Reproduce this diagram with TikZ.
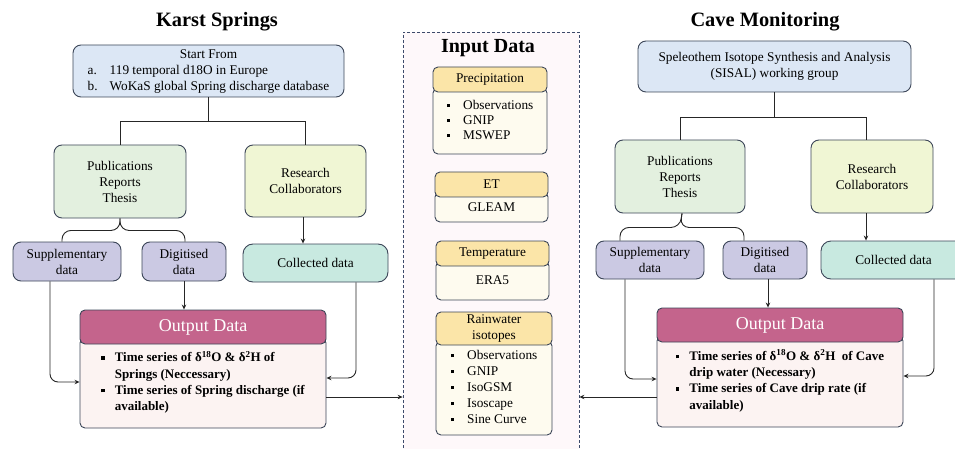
\documentclass[tikz,border=0pt]{standalone}
\usepackage{fontspec}
\setmainfont{Liberation Serif}
\usetikzlibrary{arrows.meta,calc}

\definecolor{edge}{HTML}{3C4658}
\definecolor{startfill}{HTML}{DCE7F5}
\definecolor{pubfill}{HTML}{E3F0DF}
\definecolor{resfill}{HTML}{F0F6D4}
\definecolor{lavfill}{HTML}{CBC9E3}
\definecolor{colfill}{HTML}{C8E9E0}
\definecolor{outhead}{HTML}{C4648C}
\definecolor{outbody}{HTML}{FCF3F2}
\definecolor{inhead}{HTML}{FBE5A8}
\definecolor{inbody}{HTML}{FEFBEF}
\definecolor{panelfill}{HTML}{FEF8FA}
\definecolor{paneledge}{HTML}{3C4A6A}

\newcommand\sqbul{\rule[2pt]{3.6pt}{3.6pt}}

\begin{document}
\begin{tikzpicture}[x=1pt,y=-1pt,
  box/.style={draw=edge, line width=0.9pt, rounded corners=8pt, inner sep=0pt,
    align=center, font=\fontsize{13.3}{16}\selectfont},
  smallbox/.style={box, rounded corners=5pt},
  title/.style={font=\fontsize{20.4}{22}\selectfont\bfseries, inner sep=0pt},
  outtext/.style={font=\fontsize{13}{16.3}\selectfont\bfseries},
  link/.style={line width=0.9pt, draw=black!85},
  arr/.style={link, -{Stealth[length=5pt,width=4.5pt]}},
  brace/.style={link, rounded corners=9pt}
]
\useasboundingbox (0,0) rectangle (955,449);

% ---------- central panel ----------
\node[draw=paneledge, fill=panelfill, dash pattern=on 3pt off 2pt, line width=0.8pt,
      minimum width=176pt, minimum height=430pt, inner sep=0pt] (inp) at (491,247) {};
\node[title, font=\fontsize{20}{22}\selectfont\bfseries] (inptitle) at (488,48) {Input Data};

\node[smallbox, fill=inbody, minimum width=114pt, minimum height=66pt] (prb) at (490,121)
  {\begin{tabular}{@{}l@{\hspace{13pt}}l@{}}\sqbul & Observations\\[-1pt] \sqbul & GNIP\\[-1pt] \sqbul & MSWEP\end{tabular}};
\node[smallbox, fill=inhead, minimum width=114pt, minimum height=25pt] (prh) at (490,79.5) {Precipitation};

\node[smallbox, fill=inbody, minimum width=113pt, minimum height=30pt] (etb) at (491.5,207) {GLEAM};
\node[smallbox, fill=inhead, minimum width=113pt, minimum height=25pt] (eth) at (491.5,184.5) {ET};

\node[smallbox, fill=inbody, minimum width=113pt, minimum height=39pt] (tmb) at (492.5,280.5) {ERA5};
\node[smallbox, fill=inhead, minimum width=113pt, minimum height=25pt] (tmh) at (492.5,253.5) {Temperature};

\node[smallbox, fill=inbody, minimum width=116pt, minimum height=94pt] (rnb) at (494,388)
  {\begin{tabular}{@{}l@{\hspace{13pt}}l@{}}\sqbul & Observations\\ \sqbul & GNIP\\ \sqbul & IsoGSM\\ \sqbul & Isoscape\\ \sqbul & Sine Curve\end{tabular}};
\node[smallbox, fill=inhead, minimum width=116pt, minimum height=33pt] (rnh) at (494,328.5) {Rainwater\\isotopes};

% ---------- Karst springs ----------
\node[title] (ttlL) at (217,22) {Karst Springs};
\node[box, fill=startfill, minimum width=271pt, minimum height=52pt] (startL) at (208.5,71)
  {\begin{tabular}{@{}l@{\hspace{12pt}}l@{}}\multicolumn{2}{c}{Start From}\\ a. & 119 temporal d18O in Europe\\ b. & WoKaS global Spring discharge database\end{tabular}};
\node[box, fill=pubfill, minimum width=132pt, minimum height=73pt] (pubL) at (120,181.5) {Publications\\Reports\\Thesis};
\node[box, fill=resfill, minimum width=121pt, minimum height=72pt] (resL) at (305.5,181) {Research\\Collaborators};
\node[box, fill=lavfill, minimum width=108pt, minimum height=39pt] (supL) at (67,261.5) {Supplementary\\data};
\node[box, fill=lavfill, minimum width=84pt, minimum height=39pt] (digL) at (184,261.5) {Digitised\\data};
\node[box, fill=colfill, minimum width=145pt, minimum height=38pt, rounded corners=10pt] (colL) at (315.5,263) {Collected data};
\node[box, outtext, fill=outbody, minimum width=246pt, minimum height=90pt, rounded corners=5pt] (outbL) at (203,383)
  {\begin{tabular}{@{}l@{\hspace{10pt}}l@{}}\sqbul & Time series of δ\textsuperscript{18}O \& δ\textsuperscript{2}H of\\ & Springs (Neccessary)\\ \sqbul & Time series of Spring discharge (if\\ & available)\end{tabular}};
\node[box, fill=outhead, minimum width=246pt, minimum height=34pt, rounded corners=5pt,
      text=white, font=\fontsize{18}{20}\selectfont] (outhL) at (203,327) {Output Data};

\draw[link] (startL.south) -- ++(0,24) coordinate (jL) -| (pubL.north);
\draw[link] (jL) -| (resL.north);
\draw[brace] ([xshift=-5pt]supL.north) |- ($(pubL.south)+(0,12)$) -- (pubL.south);
\draw[brace] ([xshift=1pt]digL.north) |- ($(pubL.south)+(0,12)$) -- (pubL.south);
\draw[arr] ([xshift=-2.5pt]resL.south) -- ([xshift=-2.5pt]resL.south |- colL.north);
\draw[arr, rounded corners=8pt] ([xshift=-17pt]supL.south) |- ([yshift=1pt]outbL.west);
\draw[arr] (digL.south) -- (digL.south |- outhL.north);
\draw[arr, rounded corners=8pt] ([xshift=40.5pt]colL.south) |- ([yshift=5pt]outbL.east);
\coordinate (oL) at ([yshift=-14pt]outbL.east);
\draw[arr] (oL) -- (oL -| inp.west);

% ---------- Cave monitoring ----------
\node[title] (ttlR) at (765,22) {Cave Monitoring};
\node[box, fill=startfill, minimum width=273pt, minimum height=51pt] (startR) at (774.5,66.5)
  {Speleothem Isotope Synthesis and Analysis\\(SISAL) working group};
\node[box, fill=pubfill, minimum width=130pt, minimum height=73pt] (pubR) at (680,176.5) {Publications\\Reports\\Thesis};
\node[box, fill=resfill, minimum width=122pt, minimum height=73pt] (resR) at (872,176.5) {Research\\Collaborators};
\node[box, fill=lavfill, minimum width=108pt, minimum height=38pt] (supR) at (650,260) {Supplementary\\data};
\node[box, fill=lavfill, minimum width=84pt, minimum height=38pt] (digR) at (765,260) {Digitised\\data};
\node[box, fill=colfill, minimum width=145pt, minimum height=38pt, rounded corners=10pt] (colR) at (893.5,260) {Collected data};
\node[box, outtext, fill=outbody, minimum width=246pt, minimum height=91pt, rounded corners=5pt] (outbR) at (780,381.5)
  {\begin{tabular}{@{}l@{\hspace{10pt}}l@{}}\sqbul & Time series of δ\textsuperscript{18}O \& δ\textsuperscript{2}H\ \ of Cave\\ & drip water (Necessary)\\ \sqbul & Time series of Cave drip rate (if\\ & available)\end{tabular}};
\node[box, fill=outhead, minimum width=246pt, minimum height=34pt, rounded corners=5pt,
      text=white, font=\fontsize{18}{20}\selectfont] (outhR) at (780,325) {Output Data};

\draw[link] (startR.south) -- ++(0,25) coordinate (jR) -| (pubR.north);
\draw[link] (jR) -| ([xshift=-6pt]resR.north);
\draw[brace] ([xshift=-30pt]supR.north) |- ($(pubR.south)+(0,14)$) -- ([xshift=2pt]pubR.south);
\draw[brace] ([xshift=-21pt]digR.north) |- ($(pubR.south)+(0,14)$) -- ([xshift=2pt]pubR.south);
\draw[arr] ([xshift=-6pt]resR.south) -- ([xshift=-6pt]resR.south |- colR.north);
\draw[arr, rounded corners=8pt] ([xshift=-25pt]supR.south) |- ([yshift=2.5pt]outbR.west);
\draw[arr] ([xshift=3pt]digR.south) -- ([xshift=3pt]digR.south |- outhR.north);
\draw[arr, rounded corners=8pt] ([xshift=40.5pt]colR.south) |- ([yshift=5.5pt]outbR.east);
\coordinate (oR) at ([yshift=-15.5pt]outbR.west);
\draw[arr] (oR) -- (oR -| inp.east);
\end{tikzpicture}
\end{document}
